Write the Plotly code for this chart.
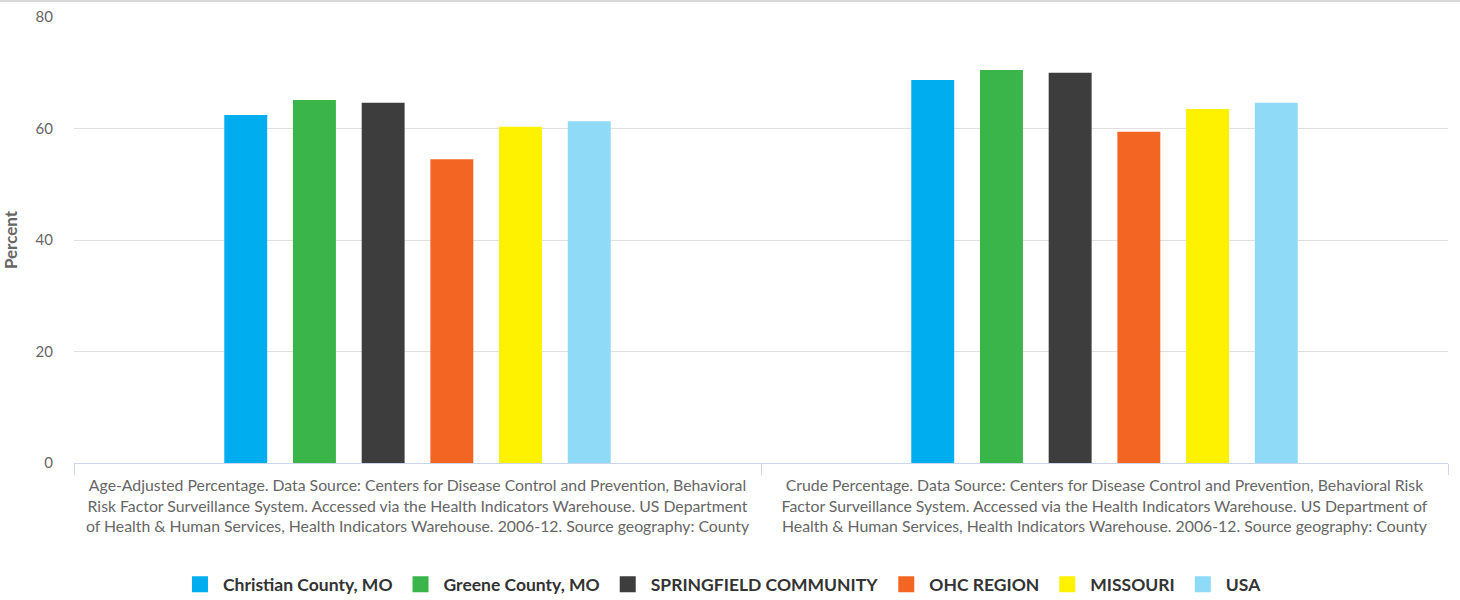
import plotly.graph_objects as go

categories = [
    "Age-Adjusted Percentage. Data Source: Centers for Disease Control and Prevention, Behavioral<br>Risk Factor Surveillance System. Accessed via the Health Indicators Warehouse. US Department<br>of Health & Human Services, Health Indicators Warehouse. 2006-12. Source geography: County",
    "Crude Percentage. Data Source: Centers for Disease Control and Prevention, Behavioral Risk<br>Factor Surveillance System. Accessed via the Health Indicators Warehouse. US Department of<br>Health & Human Services, Health Indicators Warehouse. 2006-12. Source geography: County",
]
series_names = ["Christian County, MO", "Greene County, MO", "SPRINGFIELD COMMUNITY",
                "OHC REGION", "MISSOURI", "USA"]
christian = [62.4, 68.7]
greene = [65.1, 70.5]
springfield = [64.6, 70.0]
ohc = [54.5, 59.4]
missouri = [60.3, 63.5]
usa = [61.3, 64.6]
colors = ["#00aeef", "#3ab54a", "#3d3d3d", "#f36523", "#fff200", "#8fdbf7"]
y_ticks = [0, 20, 40, 60, 80]

values = [christian, greene, springfield, ohc, missouri, usa]

fig = go.Figure()
for name, vals, col in zip(series_names, values, colors):
    fig.add_trace(go.Bar(name=name, x=categories, y=vals, marker_color=col,
                         marker_line_width=0, showlegend=False, legendgroup=name))
# legend entries with larger square swatches
for name, col in zip(series_names, colors):
    fig.add_trace(go.Scatter(name="<b>" + name + "</b>", x=[None], y=[None], mode="markers",
                             marker=dict(symbol="square", size=16, color=col),
                             legendgroup=name, showlegend=True))

fig.update_layout(
    width=1460, height=600,
    margin=dict(l=74, r=12, t=17, b=137, autoexpand=False),
    paper_bgcolor="white", plot_bgcolor="white",
    barmode="group", bargap=0.4, bargroupgap=0.375,
    font=dict(family="Lato, sans-serif", color="#666666"),
    legend=dict(orientation="h", x=0.4716, xanchor="center", y=-0.272, yanchor="middle",
                font=dict(size=17.5, color="#333333", family="Lato, sans-serif"),
                itemwidth=36, tracegroupgap=0, traceorder="normal"),
    showlegend=True,
)
fig.update_xaxes(
    automargin=False,
    showline=True, linecolor="#ccd6eb", linewidth=1,
    ticks="outside", tickson="boundaries", ticklen=11, tickcolor="#ccd6eb",
    ticklabelstandoff=8,
    tickfont=dict(size=15.8, color="#666666"), showgrid=False,
)
fig.update_yaxes(
    automargin=False,
    range=[0, 80], tickvals=y_ticks, showgrid=True, gridcolor="#e0e0e0", gridwidth=1,
    zeroline=False, showline=False, tickfont=dict(size=15, color="#666666"),
    ticklabelstandoff=20,
    title=dict(text="<b>Percent</b>", font=dict(size=17, color="#666666"), standoff=13),
)
fig.add_shape(type="line", xref="paper", yref="paper", x0=-0.06, x1=1.01, y0=1.036, y1=1.036,
              line=dict(color="#d8d8d8", width=2))
fig.write_html("out.html", config={"displayModeBar": False},
               post_script="document.body.style.margin='0';")
